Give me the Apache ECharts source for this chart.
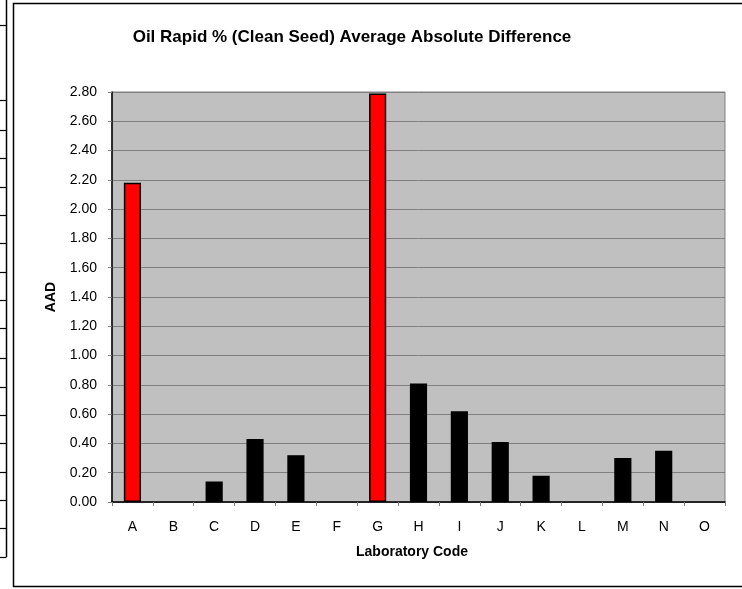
<!DOCTYPE html>
<html>
<head>
<meta charset="utf-8">
<script src="https://cdn.jsdelivr.net/npm/echarts@6/dist/echarts.min.js"></script>
<style>
html,body{margin:0;padding:0;background:#fff;}
#chart{width:742px;height:589px;}
</style>
</head>
<body>
<div id="chart"></div>
<script>
var titleText = 'Oil Rapid % (Clean Seed) Average Absolute Difference';
var categories = ['A','B','C','D','E','F','G','H','I','J','K','L','M','N','O'];
var aadValues = [2.18, 0, 0.14, 0.43, 0.32, 0, 2.79, 0.81, 0.62, 0.41, 0.18, 0, 0.30, 0.35, 0];
var flaggedLabs = ['A','G'];
var yTicks = {min: 0, max: 2.8, interval: 0.2};
var xAxisName = 'Laboratory Code';
var yAxisName = 'AAD';

var FONT = '"Liberation Sans", Arial, sans-serif';

// spreadsheet cell lines at left edge (decoration)
var cellYs = [25,100,130,158,187,215,243,272,300,328,358,387,415,443,472,500,528,557];
var graphics = [
  {type:'rect', shape:{x:13.5,y:3.5,width:740,height:583}, style:{fill:'none',stroke:'#000',lineWidth:1.5}, z:-1},
  {type:'line', shape:{x1:6.5,y1:0,x2:6.5,y2:557}, style:{stroke:'#000',lineWidth:1.5}}
];
cellYs.forEach(function(y){
  graphics.push({type:'line', shape:{x1:0,y1:y+0.5,x2:6.5,y2:y+0.5}, style:{stroke:'#000',lineWidth:1.2}});
});

var chart = echarts.init(document.getElementById('chart'), null, {renderer:'canvas'});
chart.setOption({
  animation: false,
  backgroundColor: '#fff',
  textStyle: {fontFamily: FONT},
  title: {
    text: titleText,
    left: 347, top: 24, textAlign: 'center',
    textStyle: {fontFamily: FONT, fontWeight: 'bold', fontSize: 17, color: '#000'}
  },
  graphic: graphics,
  grid: {
    left: 112, right: 17, top: 92, bottom: 87,
    show: true, backgroundColor: '#C0C0C0', borderColor: '#808080', borderWidth: 1
  },
  xAxis: {
    type: 'category',
    data: categories,
    name: xAxisName,
    nameLocation: 'middle',
    nameGap: 43,
    nameTextStyle: {fontFamily: FONT, fontWeight: 'bold', fontSize: 14, color: '#000', padding:[0,13,0,0]},
    axisLine: {lineStyle: {color: '#000', width: 1.5}},
    axisTick: {show: true, alignWithLabel: false, length: 4, lineStyle: {color: '#808080'}},
    axisLabel: {fontFamily: FONT, fontSize: 14, color: '#000', margin: 18},
    splitLine: {show: false}
  },
  yAxis: {
    type: 'value',
    min: yTicks.min, max: yTicks.max, interval: yTicks.interval,
    name: yAxisName,
    nameLocation: 'middle',
    nameGap: 54,
    nameRotate: 90,
    nameTextStyle: {fontFamily: FONT, fontWeight: 'bold', fontSize: 14, color: '#000'},
    axisLine: {show: true, lineStyle: {color: '#000', width: 1.5}},
    axisTick: {show: true, length: 4, lineStyle: {color: '#808080'}},
    axisLabel: {fontFamily: FONT, fontSize: 14, color: '#000', margin: 15,
      formatter: function(v){ return v.toFixed(2); }},
    splitLine: {show: true, lineStyle: {color: '#808080', width: 1}}
  },
  series: [{
    type: 'bar',
    barWidth: '42%',
    data: aadValues.map(function(v, i){
      var isFlag = flaggedLabs.indexOf(categories[i]) >= 0;
      return {value: v, itemStyle: {color: isFlag ? '#FF0000' : '#000000', borderColor: '#000', borderWidth: v > 0 ? 1.5 : 0}};
    })
  }]
});
</script>
</body>
</html>
